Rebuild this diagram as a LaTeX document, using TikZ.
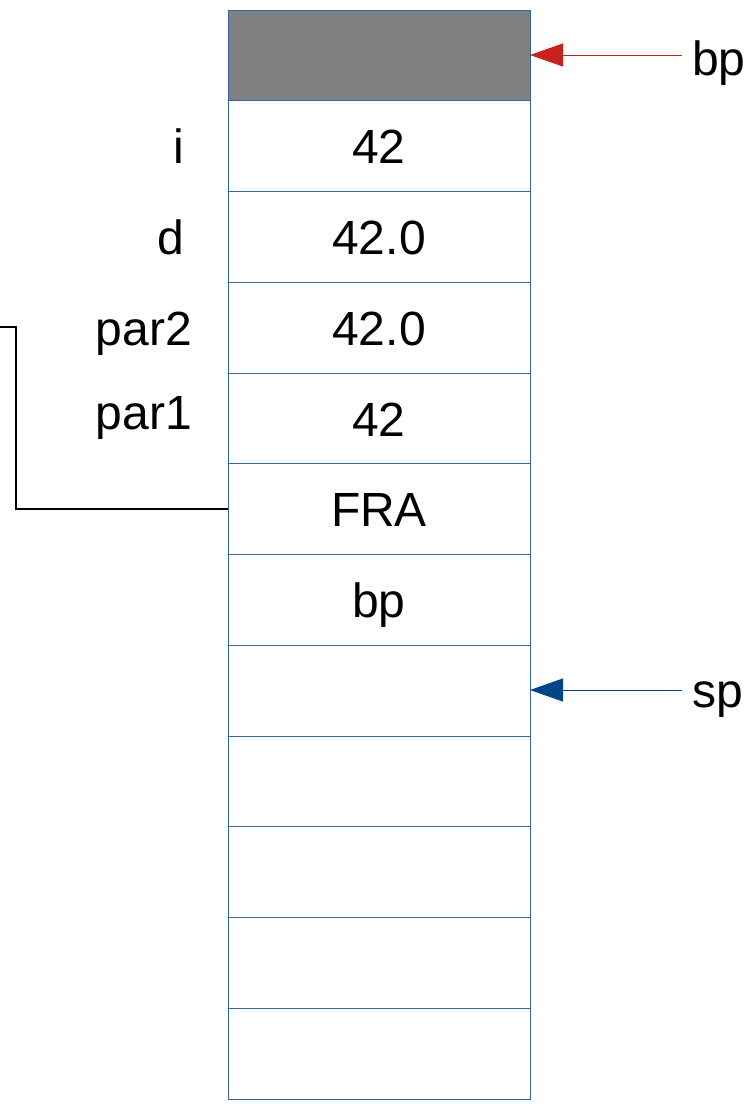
\documentclass[tikz,border=0pt]{standalone}
\usepackage{fontspec}
\setmainfont{Liberation Sans}
\usetikzlibrary{arrows.meta}
\definecolor{cellblue}{HTML}{3465A4}
\definecolor{bpred}{HTML}{C9211E}
\definecolor{spblue}{HTML}{004586}
\definecolor{cellgray}{HTML}{808080}
\tikzset{
  cell/.style={draw=cellblue, line width=1pt, minimum width=302pt, minimum height=90.75pt, inner sep=0pt, outer sep=0pt},
  txt/.style={font=\fontsize{48}{58}\selectfont, inner sep=0pt},
  ptr/.style={line width=1pt, -{Triangle[length=33pt,width=23pt]}},
}
\begin{document}
\begin{tikzpicture}[x=1pt,y=-1pt]
\useasboundingbox (0,0) rectangle (753,1104);
% cells
\foreach \k in {1,...,12}{
  \node[cell] (c\k) at (379, {10 + 90.75*(\k-0.5)}) {};
}
\fill[cellgray] (c1.north west) rectangle (c1.south east);
\draw[cellblue, line width=1pt] (c1.north west) rectangle (c1.south east);
% cell contents
\node[txt, anchor=base] (v2) at (379,163) {42};
\node[txt, anchor=base] (v3) at (379,254) {42.0};
\node[txt, anchor=base] (v4) at (379,345) {42.0};
\node[txt, anchor=base] (v5) at (379,436) {42};
\node[txt, anchor=base] (v6) at (379,526) {FRA};
\node[txt, anchor=base] (v7) at (379,617) {bp};
% labels
\node[txt, anchor=base east] (li) at (184,163) {i};
\node[txt, anchor=base east] (ld) at (184,254) {d};
\node[txt, anchor=base east] (lp2) at (192,345) {par2};
\node[txt, anchor=base east] (lp1) at (192,429) {par1};
% pointers
\node[txt, anchor=base west] (bp) at (692,75) {bp};
\node[txt, anchor=base west] (sp) at (692,707) {sp};
\coordinate (bpstart) at (682,55);
\coordinate (spstart) at (682,690);
\draw[ptr, bpred] (bpstart) -- (bpstart -| c1.east);
\draw[ptr, spblue] (spstart) -- (spstart -| c8.east);
% connector
\coordinate (lft) at (0,327);
\draw[line width=2pt] (lft) -- ++(16,0) |- (c6.west);
\end{tikzpicture}
\end{document}
